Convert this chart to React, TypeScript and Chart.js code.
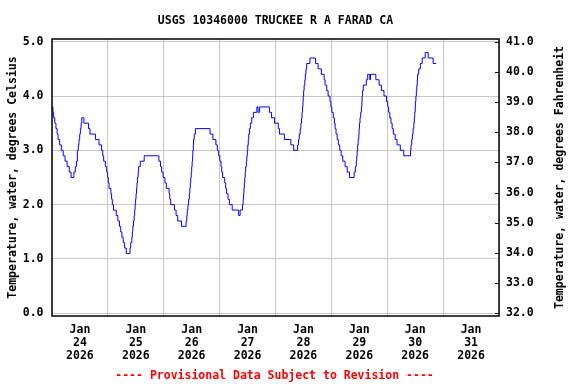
import React, { useEffect, useRef } from "react";
import { Chart, registerables } from "chart.js";

Chart.register(...registerables);

const chartTitle = "USGS 10346000 TRUCKEE R A FARAD CA";
const footerText = "---- Provisional Data Subject to Revision ----";
const leftAxisTitle = "Temperature, water, degrees Celsius";
const rightAxisTitle = "Temperature, water, degrees Fahrenheit";

const monthLabel = "Jan";
const yearLabel = "2026";
const dayLabels = ["24", "25", "26", "27", "28", "29", "30", "31"];
const xTickHours = [0, 12, 24, 36, 48, 60, 72, 84, 96, 108, 120, 132, 144, 156, 168, 180, 192];
const celsiusTicks = [0, 1, 2, 3, 4, 5];
const fahrenheitTicks = [32, 33, 34, 35, 36, 37, 38, 39, 40, 41];

// [hours since Jan 24 2026 00:00, water temperature in °C]
const tempReadings: [number, number][] = [
  [0, 3.8], [0.4, 3.7], [0.7, 3.6], [1.2, 3.5], [1.7, 3.4], [2.2, 3.3], [2.6, 3.2], [3.3, 3.1],
  [4.0, 3.0], [4.8, 2.9], [5.6, 2.8], [6.5, 2.7], [7.4, 2.6], [8.2, 2.5], [9.4, 2.6], [10.0, 2.7],
  [10.5, 2.8], [10.9, 3.0], [11.3, 3.1], [11.6, 3.2], [11.9, 3.3], [12.2, 3.4], [12.5, 3.5], [12.8, 3.6],
  [13.7, 3.5], [15.7, 3.4], [16.3, 3.3], [18.7, 3.2], [20.2, 3.1], [21.3, 3.0], [21.8, 2.9], [22.2, 2.8],
  [22.9, 2.7], [23.5, 2.6], [23.9, 2.5], [24.2, 2.4], [24.5, 2.3], [25.3, 2.2], [25.6, 2.1], [25.9, 2.0],
  [26.4, 1.9], [27.6, 1.8], [28.3, 1.7], [29.0, 1.6], [29.5, 1.5], [30.0, 1.4], [30.6, 1.3], [31.2, 1.2],
  [31.9, 1.1], [33.5, 1.2], [33.8, 1.3], [34.3, 1.4], [34.5, 1.5], [34.7, 1.6], [35.0, 1.7], [35.3, 1.8],
  [35.5, 1.9], [35.7, 2.0], [35.9, 2.1], [36.1, 2.2], [36.3, 2.3], [36.5, 2.4], [36.7, 2.5], [37.0, 2.6],
  [37.2, 2.7], [37.9, 2.8], [39.6, 2.9], [45.9, 2.8], [46.6, 2.7], [47.1, 2.6], [47.7, 2.5], [48.5, 2.4],
  [49.1, 2.3], [50.3, 2.2], [50.6, 2.1], [51.0, 2.0], [52.6, 1.9], [53.3, 1.8], [54.0, 1.7], [55.6, 1.6],
  [57.6, 1.7], [57.9, 1.8], [58.1, 1.9], [58.4, 2.0], [58.7, 2.1], [59.0, 2.2], [59.2, 2.3], [59.4, 2.4],
  [59.6, 2.5], [59.8, 2.6], [60.0, 2.7], [60.2, 2.8], [60.4, 2.9], [60.5, 3.0], [60.7, 3.1], [60.8, 3.2],
  [61.1, 3.3], [61.6, 3.4], [67.9, 3.3], [69.1, 3.2], [70.4, 3.1], [71.0, 3.0], [71.6, 2.9], [72.1, 2.8],
  [72.6, 2.7], [72.9, 2.6], [73.3, 2.5], [74.2, 2.4], [74.6, 2.3], [75.0, 2.2], [75.6, 2.1], [76.2, 2.0],
  [77.4, 1.9], [80.2, 1.8], [80.8, 1.9], [81.8, 2.0], [82.1, 2.1], [82.3, 2.2], [82.45, 2.3], [82.6, 2.4],
  [82.8, 2.5], [83.0, 2.6], [83.2, 2.7], [83.5, 2.8], [83.7, 2.9], [83.9, 3.0], [84.1, 3.1], [84.3, 3.2],
  [84.5, 3.3], [84.8, 3.4], [85.2, 3.5], [85.8, 3.6], [86.5, 3.7], [88.0, 3.8], [88.5, 3.7], [89.2, 3.8],
  [93.4, 3.7], [94.3, 3.6], [95.6, 3.5], [97.2, 3.4], [97.7, 3.3], [99.8, 3.2], [102.6, 3.1], [103.8, 3.0],
  [105.5, 3.1], [105.9, 3.2], [106.2, 3.3], [106.6, 3.4], [106.9, 3.5], [107.2, 3.6], [107.4, 3.7], [107.6, 3.8],
  [107.8, 3.9], [107.9, 4.0], [108.1, 4.1], [108.3, 4.2], [108.6, 4.3], [108.8, 4.4], [109.1, 4.5], [109.4, 4.6],
  [110.8, 4.7], [113.2, 4.6], [114.3, 4.5], [115.7, 4.4], [116.9, 4.3], [117.3, 4.2], [118.0, 4.1], [118.6, 4.0],
  [119.4, 3.9], [119.8, 3.8], [120.2, 3.7], [120.8, 3.6], [121.3, 3.5], [121.6, 3.4], [122.0, 3.3], [122.5, 3.2],
  [123.0, 3.1], [123.6, 3.0], [124.2, 2.9], [124.9, 2.8], [125.9, 2.7], [126.8, 2.6], [127.8, 2.5], [129.8, 2.6],
  [130.3, 2.7], [130.7, 2.8], [130.9, 2.9], [131.1, 3.0], [131.3, 3.1], [131.5, 3.2], [131.8, 3.3], [131.9, 3.4],
  [132.1, 3.5], [132.3, 3.6], [132.6, 3.7], [132.9, 3.8], [133.1, 3.9], [133.2, 4.0], [133.4, 4.1], [133.7, 4.2],
  [135.0, 4.3], [135.6, 4.4], [136.5, 4.3], [136.8, 4.4], [139.1, 4.3], [140.5, 4.2], [141.5, 4.1], [142.6, 4.0],
  [143.7, 3.9], [144.2, 3.8], [144.6, 3.7], [145.1, 3.6], [145.6, 3.5], [146.1, 3.4], [146.6, 3.3], [147.4, 3.2],
  [148.2, 3.1], [149.6, 3.0], [151.1, 2.9], [154.0, 3.0], [154.2, 3.1], [154.5, 3.2], [154.8, 3.3], [155.1, 3.4],
  [155.4, 3.5], [155.6, 3.6], [155.8, 3.7], [156.0, 3.8], [156.1, 3.9], [156.3, 4.0], [156.5, 4.1], [156.7, 4.2],
  [156.9, 4.3], [157.0, 4.4], [157.5, 4.5], [158.2, 4.6], [159.0, 4.7], [160.3, 4.8], [161.6, 4.7], [163.7, 4.6],
  [165.0, 4.6],
];

const FONT_FAMILY = '"DejaVu Sans Mono", "Liberation Mono", monospace';
const FONT_SIZE = 11.5;
const cToF = (c: number) => c * 1.8 + 32;
const C_MIN = -0.05;
const C_MAX = 5.05;

const decorPlugin = {
  id: "usgsDecor",
  afterDraw(chart: any) {
    const { ctx, chartArea } = chart;
    const { left, right, top, bottom } = chartArea;
    ctx.save();
    // frame
    ctx.strokeStyle = "#000";
    ctx.lineWidth = 1.5;
    ctx.strokeRect(left, top, right - left, bottom - top);
    // inner ticks on right axis
    const y2 = chart.scales.y2;
    ctx.lineWidth = 1;
    ctx.beginPath();
    for (const v of fahrenheitTicks) {
      const py = Math.round(y2.getPixelForValue(v)) + 0.5;
      ctx.moveTo(right - 4, py);
      ctx.lineTo(right, py);
    }
    ctx.stroke();
    // texts
    ctx.font = `bold ${FONT_SIZE}px ${FONT_FAMILY}`;
    ctx.fillStyle = "#000";
    ctx.textAlign = "center";
    ctx.textBaseline = "alphabetic";
    const cx = (left + right) / 2;
    ctx.fillText(chartTitle, cx, 24);
    ctx.fillStyle = "#ff0000";
    ctx.fillText(footerText, cx - 1, 378.5);
    ctx.fillStyle = "#000";
    const cy = (top + bottom) / 2;
    ctx.save();
    ctx.translate(15.5, cy);
    ctx.rotate(-Math.PI / 2);
    ctx.fillText(leftAxisTitle, 0, 0);
    ctx.restore();
    ctx.save();
    ctx.translate(563, cy);
    ctx.rotate(-Math.PI / 2);
    ctx.fillText(rightAxisTitle, 0, 0);
    ctx.restore();
    ctx.restore();
  },
};

export default function App() {
  const canvasRef = useRef<HTMLCanvasElement | null>(null);

  useEffect(() => {
    if (!canvasRef.current) return;
    const tickFont = { family: FONT_FAMILY, size: FONT_SIZE, weight: "bold" as const, lineHeight: "13px" };
    const chart = new Chart(canvasRef.current, {
      type: "line",
      data: {
        datasets: [
          {
            data: tempReadings.map(([h, c]) => ({ x: h, y: c })),
            borderColor: "#0000ff",
            borderWidth: 1,
            pointRadius: 0,
            stepped: true,
            fill: false,
            yAxisID: "y",
          },
        ],
      },
      plugins: [decorPlugin],
      options: {
        animation: false,
        responsive: false,
        devicePixelRatio: 1,
        parsing: false,
        layout: { padding: { top: 39, left: 0, right: 0, bottom: 0 } },
        plugins: { legend: { display: false }, title: { display: false }, tooltip: { enabled: false } },
        scales: {
          x: {
            type: "linear",
            min: 0,
            max: 192,
            afterBuildTicks: (scale: any) => {
              scale.ticks = xTickHours.map((v) => ({ value: v }));
            },
            afterFit: (scale: any) => {
              scale.height = 68;
            },
            border: { display: false },
            grid: {
              color: (ctx: any) => (ctx.tick && ctx.tick.value % 24 === 0 ? "#c8c8c8" : "rgba(0,0,0,0)"),
              lineWidth: 1,
              drawTicks: false,
            },
            ticks: {
              autoSkip: false,
              maxRotation: 0,
              padding: 7.5,
              color: "#000",
              font: tickFont,
              callback: (value: any) => {
                const v = Number(value);
                if (v % 24 !== 12) return "";
                const idx = Math.floor(v / 24);
                return [monthLabel, dayLabels[idx], yearLabel];
              },
            },
          },
          y: {
            type: "linear",
            position: "left",
            min: C_MIN,
            max: C_MAX,
            afterBuildTicks: (scale: any) => {
              scale.ticks = celsiusTicks.map((v) => ({ value: v }));
            },
            afterFit: (scale: any) => {
              scale.width = 52;
            },
            border: { display: false },
            grid: { color: "#c8c8c8", lineWidth: 1, drawTicks: false },
            ticks: {
              padding: 8.5,
              color: "#000",
              font: tickFont,
              callback: (value: any) => Number(value).toFixed(1),
            },
          },
          y2: {
            type: "linear",
            position: "right",
            min: cToF(C_MIN),
            max: cToF(C_MAX),
            afterBuildTicks: (scale: any) => {
              scale.ticks = fahrenheitTicks.map((v) => ({ value: v }));
            },
            afterFit: (scale: any) => {
              scale.width = 77;
            },
            border: { display: false },
            grid: { drawOnChartArea: false, drawTicks: false },
            ticks: {
              padding: 7,
              color: "#000",
              font: tickFont,
              callback: (value: any) => Number(value).toFixed(1),
            },
          },
        },
      },
    } as any);
    return () => chart.destroy();
  }, []);

  return (
    <div style={{ position: "absolute", left: 0, top: 0, width: 576, height: 384, background: "#fff" }}>
      <canvas ref={canvasRef} width={576} height={384} style={{ width: 576, height: 384, display: "block" }} />
    </div>
  );
}
